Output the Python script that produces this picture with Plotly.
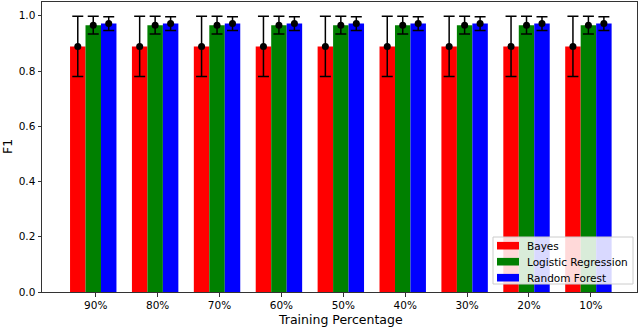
import plotly.graph_objects as go

categories = ["90%", "80%", "70%", "60%", "50%", "40%", "30%", "20%", "10%"]
series_names = ["Bayes", "Logistic Regression", "Random Forest"]
bayes = [0.889, 0.889, 0.889, 0.889, 0.889, 0.889, 0.889, 0.889, 0.889]
bayes_err = [0.109, 0.109, 0.109, 0.109, 0.109, 0.109, 0.109, 0.109, 0.109]
logreg = [0.966, 0.966, 0.966, 0.966, 0.966, 0.966, 0.966, 0.966, 0.966]
logreg_err = [0.032, 0.032, 0.032, 0.032, 0.032, 0.032, 0.032, 0.032, 0.032]
forest = [0.972, 0.972, 0.972, 0.972, 0.972, 0.972, 0.972, 0.972, 0.972]
forest_err = [0.025, 0.025, 0.025, 0.025, 0.025, 0.025, 0.025, 0.025, 0.025]
yticks = [0.0, 0.2, 0.4, 0.6, 0.8, 1.0]

colors = ["#ff0000", "#008000", "#0000ff"]
offsets = [-0.29, -0.04, 0.21]
width = 0.25
FONT = "DejaVu Sans"

# plot-area geometry in pixels (for legend placement)
L, R, T, B = 42, 637, 2, 292
W, H = 640, 328


def px_x(px):
    return (px - L) / (R - L)


def px_y(py):
    return (B - py) / (B - T)


fig = go.Figure()
idx = list(range(len(categories)))
for name, vals, col, off in zip(series_names, [bayes, logreg, forest], colors, offsets):
    xs = [i + off for i in idx]
    fig.add_trace(go.Bar(x=xs, y=vals, width=width, name=name, showlegend=False,
                         marker=dict(color=col, line=dict(width=0))))
for vals, errs, off in zip([bayes, logreg, forest], [bayes_err, logreg_err, forest_err], offsets):
    xs = [i + off for i in idx]
    fig.add_trace(go.Scatter(x=xs, y=vals, mode="markers", showlegend=False,
                             marker=dict(color="black", size=7),
                             error_y=dict(type="data", array=errs, color="black",
                                          thickness=1.5, width=5.5)))

shapes = []
annotations = []
# legend box
shapes.append(dict(type="rect", xref="paper", yref="paper",
                   x0=px_x(493), x1=px_x(633), y0=px_y(284), y1=px_y(237),
                   line=dict(color="#cccccc", width=1), fillcolor="rgba(255,255,255,0.85)",
                   layer="above"))
for k, (name, col) in enumerate(zip(series_names, colors)):
    cy = 245.7 + k * 16
    shapes.append(dict(type="rect", xref="paper", yref="paper",
                       x0=px_x(497), x1=px_x(519), y0=px_y(cy + 3.8), y1=px_y(cy - 3.8),
                       line=dict(width=0), fillcolor=col, layer="above"))
    annotations.append(dict(text=name, xref="paper", yref="paper", x=px_x(524.5), y=px_y(cy),
                            xanchor="left", yanchor="middle", showarrow=False,
                            font=dict(family=FONT, size=10.5, color="black")))

annotations.append(dict(text="Training Percentage", xref="paper", yref="paper",
                        x=px_x(340), y=px_y(319.5), xanchor="center", yanchor="middle",
                        showarrow=False, font=dict(family=FONT, size=12.5, color="black")))
annotations.append(dict(text="F1", xref="paper", yref="paper", x=px_x(7), y=px_y(147),
                        xanchor="center", yanchor="middle", textangle=-90,
                        showarrow=False, font=dict(family=FONT, size=12.5, color="black")))

fig.update_layout(
    width=W, height=H,
    margin=dict(l=L, r=W - R, t=T, b=H - B),
    plot_bgcolor="white", paper_bgcolor="white",
    font=dict(family=FONT, size=10.5, color="black"),
    barmode="overlay",
    showlegend=False,
    shapes=shapes,
    annotations=annotations,
    xaxis=dict(range=[-0.868, 8.745], tickvals=idx, ticktext=categories, automargin=False,
               showgrid=False, zeroline=False, showline=True, linecolor="#333333",
               linewidth=1, mirror=True, ticks="outside", ticklen=3.5, tickcolor="#333333"),
    yaxis=dict(range=[0, 1.05], tickvals=yticks, ticktext=[f"{v:.1f}" for v in yticks],
               automargin=False,
               showgrid=False, zeroline=False, showline=True, linecolor="#333333",
               linewidth=1, mirror=True, ticks="outside", ticklen=3.5, tickcolor="#333333"),
)
fig.write_html("out.html", config={"displayModeBar": False},
               post_script="document.body.style.margin='0';document.body.style.overflow='hidden';")
